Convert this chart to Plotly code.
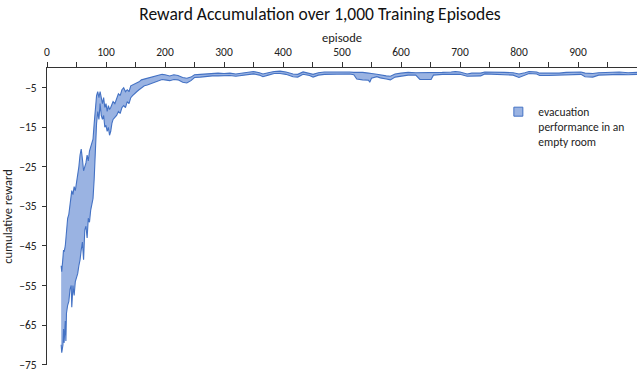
import plotly.graph_objects as go

episodes = [24, 25, 27, 28, 29, 31, 32, 33, 35, 37, 39, 41, 42, 44, 46, 48, 50, 52, 54, 56, 58, 60,
            62, 64, 66, 68, 70, 72, 74, 76, 78, 80, 82, 84, 86, 88, 90, 92, 94, 96, 98, 100,
            102, 104, 106, 108, 110, 112, 115, 118, 121, 124, 127, 130, 133, 136, 139, 142, 145,
            148, 152, 156, 160, 165, 170, 175, 180, 185, 190, 195, 200, 208, 215, 222, 230, 237,
            244, 250, 260, 270, 280, 290, 300, 310, 320, 330, 340, 350, 360, 366, 375, 385, 395,
            405, 417, 425, 434, 445, 451, 460, 470, 485, 500, 513, 520, 525, 535, 545, 547, 550,
            559, 565, 575, 582, 590, 600, 612, 625, 632, 651, 655, 670, 685, 692, 700, 712, 720,
            735, 742, 760, 775, 790, 800, 810, 817, 830, 835, 850, 868, 880, 895, 905, 912, 925,
            935, 954, 970, 985, 1000]

upper = [-50, -51.5, -48, -46, -46.5, -45, -43, -41, -38, -37, -34.5, -33, -31, -32, -30, -31, -29,
         -27.5, -25, -22, -20.5, -23, -26, -25, -24, -22, -23.5, -21, -20, -18.5, -18, -14, -9, -7,
         -6, -7.5, -6, -8, -9, -7.5, -10, -9, -11, -9.5, -10.5, -10, -9, -8.5, -9, -7.5, -6.5, -7,
         -5.5, -5, -6, -5.5, -6, -4.5, -4.3, -4, -3.8, -3.5, -3, -2.8, -2.6, -2.5, -2.3, -2.0, -1.8,
         -1.6, -1.7, -2.0, -1.7, -1.9, -2.4, -2.6, -2.3, -1.7, -1.6, -1.5, -1.4, -1.3, -1.4, -1.3,
         -1.5, -1.3, -1.2, -0.9, -1.2, -1.5, -1.2, -0.9, -0.8, -1.0, -1.5, -1.6, -1.0, -1.3, -1.6,
         -1.2, -1.0, -1.0, -0.9, -1.0, -1.1, -1.1, -1.1, -1.3, -1.4, -1.4, -1.6, -1.8, -2.0, -2.1,
         -1.5, -1.3, -1.1, -1.2, -1.2, -1.2, -1.1, -1.1, -1.0, -0.9, -1.0, -1.5, -1.3, -1.3, -1.0,
         -1.0, -1.1, -1.2, -1.5, -1.2, -0.9, -1.0, -1.3, -1.3, -1.3, -1.1, -1.0, -1.0, -1.3, -1.4,
         -1.2, -1.1, -1.0, -1.2, -1.1]

lower = [-70, -72, -70, -66, -69.5, -64, -69, -62, -60, -59, -56, -55, -60.5, -55, -57.5, -54, -53,
         -52, -50, -48.5, -46, -44, -48.5, -41, -40, -43, -38, -39, -36, -34.5, -33, -28, -20, -14,
         -11, -13, -9, -12, -13, -12, -15, -14.5, -16, -15, -17, -16, -14, -13, -12.5, -12, -11,
         -11.5, -10, -9.5, -10, -8.5, -9, -7.5, -7, -6.5, -6, -5.5, -5, -4.5, -4.3, -4, -3.6, -3.4,
         -3.2, -2.9, -3.0, -3.2, -2.9, -3.0, -3.6, -3.8, -3.2, -2.4, -2.3, -2.1, -2.0, -2.0, -2.0,
         -1.9, -2.1, -1.9, -1.8, -1.5, -1.8, -2.2, -1.8, -1.4, -1.4, -1.6, -2.2, -2.3, -1.6, -1.9,
         -2.3, -1.8, -1.6, -1.5, -1.5, -1.5, -1.7, -2.8, -3.0, -3.1, -3.6, -2.6, -2.2, -2.5, -2.8,
         -3.0, -2.3, -2.0, -1.8, -1.8, -2.9, -2.9, -1.8, -1.6, -1.6, -1.5, -1.6, -2.1, -2.0, -2.0,
         -1.5, -1.6, -1.6, -1.8, -2.4, -1.9, -1.4, -1.5, -1.9, -1.9, -1.8, -1.6, -1.5, -1.6, -2.2,
         -2.3, -1.8, -1.6, -1.6, -1.7, -1.6]

x_tickvals = [0, 50, 100, 150, 200, 250, 300, 350, 400, 450, 500, 550, 600, 650, 700, 750, 800, 850, 900, 950]
x_ticktext = ["0", "", "100", "", "200", "", "300", "", "400", "", "500", "", "600", "", "700", "", "800", "", "900", ""]
y_tickvals = [-5, -15, -25, -35, -45, -55, -65, -75]

series_name = "evacuation<br>performance in an<br>empty room"

FONT = "Carlito, Calibri, Lato, sans-serif"
LINE = "#4472C4"
FILL = "#9AB3E2"

fig = go.Figure()
fig.add_trace(go.Scatter(x=episodes, y=lower, mode="lines",
                         line=dict(color=LINE, width=1.1), showlegend=False, hoverinfo="skip"))
fig.add_trace(go.Scatter(x=episodes, y=upper, mode="lines", fill="tonexty",
                         fillcolor=FILL, line=dict(color=LINE, width=1.1),
                         name=series_name, showlegend=False))
# legend entry drawn as a small square, as in the original
fig.add_trace(go.Scatter(x=[None], y=[None], mode="markers", name=series_name,
                         marker=dict(symbol="square", size=9, color=FILL,
                                     line=dict(color=LINE, width=1)),
                         showlegend=True))

fig.update_layout(
    width=640, height=373,
    margin=dict(l=47, r=3, t=68, b=8),
    paper_bgcolor="white", plot_bgcolor="white",
    font=dict(family=FONT, size=11, color="#222"),
    title=dict(text="Reward Accumulation over 1,000 Training Episodes", x=0.5, xanchor="center",
               y=0.962, yanchor="middle", font=dict(size=17.5, family=FONT, color="#111")),
    xaxis=dict(side="top", range=[0, 1000], tickvals=x_tickvals, ticktext=x_ticktext,
               ticks="outside", ticklen=5, tickcolor="#333", showline=True, linecolor="#333",
               linewidth=1, showgrid=False, zeroline=False, ticklabelstandoff=1,
               title=dict(text="episode", font=dict(size=12.5), standoff=0),
               tickfont=dict(size=11.5)),
    yaxis=dict(range=[-75.1, 0], tickvals=y_tickvals, ticks="outside", ticklen=4,
               tickcolor="#333", showline=True, linecolor="#333", linewidth=1,
               showgrid=False, zeroline=False, ticklabelstandoff=3,
               ticklabeloverflow="allow", automargin=False,
               title=dict(text="cumulative reward", font=dict(size=12.5), standoff=8),
               tickfont=dict(size=11.5)),
    legend=dict(x=0.765, y=0.9, xanchor="left", yanchor="top", bgcolor="rgba(0,0,0,0)",
                font=dict(size=11.5), itemwidth=30, valign="top"),
)

fig.write_html("out.html", config={"displayModeBar": False},
               post_script="document.body.style.margin='0px';")
